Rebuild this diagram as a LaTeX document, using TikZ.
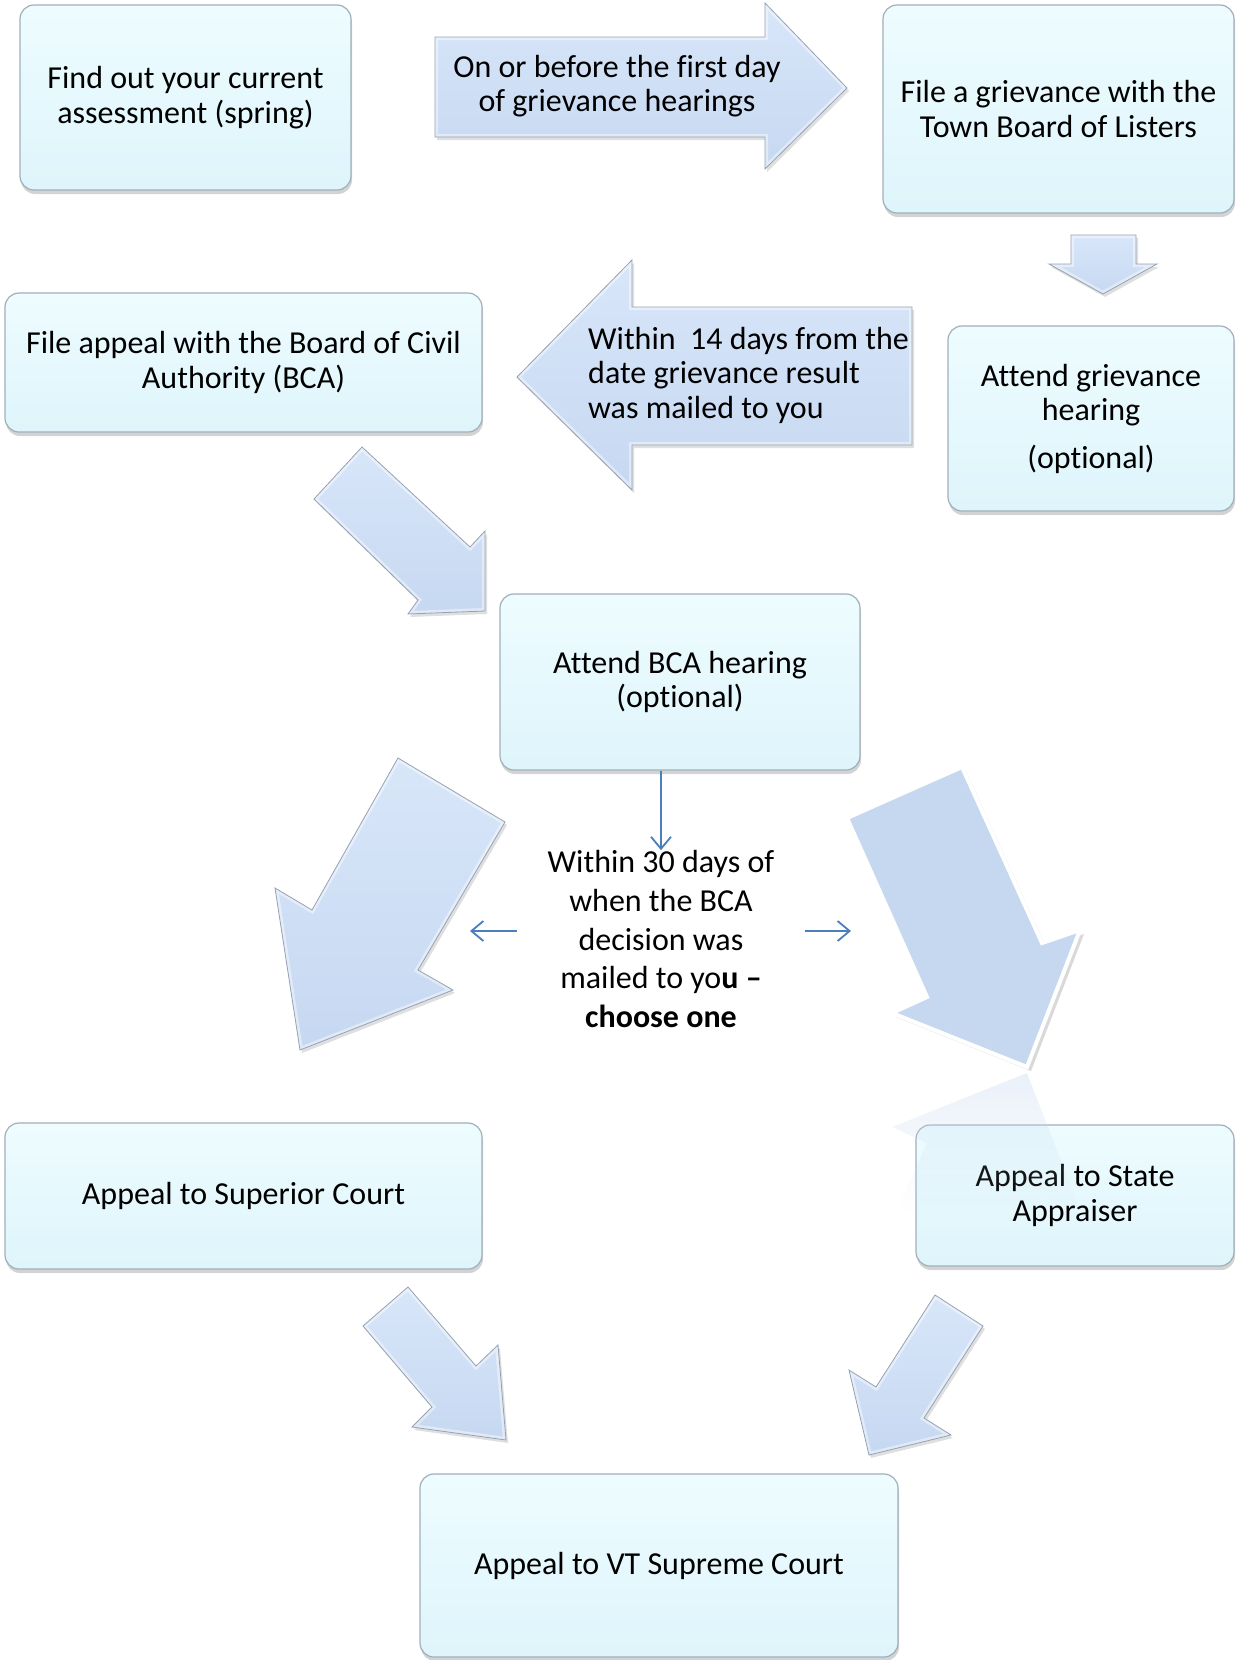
\documentclass[tikz,border=0pt]{standalone}
\usepackage{fontspec}
\setmainfont{Carlito}[Ligatures={NoCommon,TeX}, RawFeature={-liga;-clig;-calt;-dlig}]
\usetikzlibrary{shadows,fadings,arrows.meta}
\definecolor{boxtop}{RGB}{238,252,255}
\definecolor{boxbot}{RGB}{222,245,251}
\definecolor{boxedge}{RGB}{160,176,186}
\definecolor{arrlight}{RGB}{216,230,249}
\definecolor{arrdark}{RGB}{198,216,241}
\definecolor{arredge}{RGB}{150,162,178}
\definecolor{flatarrow}{RGB}{198,216,239}
\definecolor{thinblue}{RGB}{74,126,189}
\tikzfading[name=fadedown, top color=transparent!62, bottom color=transparent!100]
\newcommand\boxfont{\fontsize{32}{34.5}\selectfont}
\newcommand\midfont{\fontsize{32}{38.7}\selectfont}
\begin{document}
\begin{tikzpicture}[x=1pt,y=-1pt,
  box/.style={rounded corners=14pt, draw=boxedge, line width=1.2pt,
    top color=boxtop, bottom color=boxbot,
    drop shadow={shadow xshift=1pt, shadow yshift=-4pt, opacity=0.35},
    align=center, font=\boxfont, inner sep=0pt, text=black},
  bevelfill/.style={top color=arrlight, bottom color=arrdark,
    drop shadow={shadow xshift=2pt, shadow yshift=-3pt, opacity=0.25}},
  beveledge/.style={draw=arredge, line width=0.8pt, line join=miter},
  bevelglow/.style={draw=white, line width=6pt, opacity=0.45, line join=miter},
  flatarr/.style={fill=flatarrow, draw=white, line width=4pt, line join=miter,
    drop shadow={shadow xshift=4pt, shadow yshift=-4pt, opacity=0.3}},
  arrowtext/.style={font=\boxfont, inner sep=0pt},
  thinarrow/.style={draw=thinblue, line width=1.8pt, -{Straight Barb[length=12pt,width=20pt]}}
]
\newcommand\bevelarr[1]{%
  \path[bevelfill] #1;
  \begin{scope}\clip #1; \path[bevelglow] #1; \end{scope}
  \path[beveledge] #1;}
\useasboundingbox (0,0) rectangle (1237,1660);

% block arrows
\bevelarr{(435,37) -- (765,37) -- (765,3) -- (847,88) -- (765,169) -- (765,137) -- (435,137) -- cycle}
\bevelarr{(1071,235) -- (1136,235) -- (1136,264) -- (1157,264) -- (1103,294) -- (1049,264) -- (1071,264) -- cycle}
\bevelarr{(912,307) -- (632,307) -- (632,260) -- (517,377) -- (632,490) -- (632,445) -- (912,445) -- cycle}
\bevelarr{(362,447) -- (470,547) -- (485,531) -- (485,611) -- (408,614) -- (418,600) -- (314,499) -- cycle}
\bevelarr{(398,758) -- (505,822) -- (418,970) -- (453,990) -- (300,1050) -- (275,888) -- (312,910) -- cycle}
\path[flatarr] (962,767) -- (1042,943) -- (1080,930) -- (1027,1067) -- (892,1013) -- (927,997) -- (847,818) -- cycle;
\bevelarr{(408,1287) -- (476,1366) -- (498,1345) -- (506,1440) -- (412,1427) -- (432,1407) -- (363,1326) -- cycle}
\bevelarr{(935,1295) -- (983,1326) -- (924,1418) -- (951,1435) -- (869,1455) -- (849,1370) -- (876,1387) -- cycle}

% boxes
\node[box, minimum width=331pt, minimum height=185pt] (b1) at (185.5,97.5) {Find out your current\\assessment (spring)};
\node[box, minimum width=351pt, minimum height=208pt] (b2) at (1058.5,109) {File a grievance with the\\Town Board of Listers};
\node[box, minimum width=286pt, minimum height=185pt] (b3) at (1091,418.5) {Attend grievance\\hearing\\[13pt](optional)};
\node[box, minimum width=477pt, minimum height=139pt] (b4) at (243.5,362.5) {File appeal with the Board of Civil\\Authority (BCA)};
\node[box, minimum width=360pt, minimum height=176pt] (b5) at (680,682) {Attend BCA hearing\\(optional)};
\node[box, minimum width=477pt, minimum height=146pt] (b6) at (243.5,1196) {Appeal to Superior Court};
\node[box, minimum width=318pt, minimum height=141pt] (b7) at (1075,1195.5) {Appeal to State\\Appraiser};
\node[box, minimum width=478pt, minimum height=183pt] (b8) at (659,1565.5) {Appeal to VT Supreme Court};

% reflection of the flat arrow
\begin{scope}
  \clip (962,1373) -- (1042,1197) -- (1080,1210) -- (1027,1073) -- (892,1127) -- (927,1143) -- (847,1322) -- cycle;
  \fill[flatarrow, path fading=fadedown] (840,1068) rectangle (1090,1215);
\end{scope}

% arrow texts
\node[arrowtext, align=center] (t1) at (617,86) {On or before the first day\\of grievance hearings};
\node[arrowtext, align=left, anchor=west] (t2) at (588,375) {Within~~14 days from the\\date grievance result\\was mailed to you};

% middle text and thin arrows
\node[font=\midfont, align=center, inner sep=0pt] (mid) at (661,939) {Within 30 days of\\when the BCA\\decision was\\mailed to yo\textbf{u –}\\\textbf{choose one}};
\draw[thinarrow] (mid.north |- b5.south) -- (mid.north);
\coordinate (la) at (517,931);
\coordinate (lb) at (470,931);
\coordinate (ra) at (805,931);
\coordinate (rb) at (851,931);
\draw[thinarrow] (la) -- (lb);
\draw[thinarrow] (ra) -- (rb);
\end{tikzpicture}
\end{document}
